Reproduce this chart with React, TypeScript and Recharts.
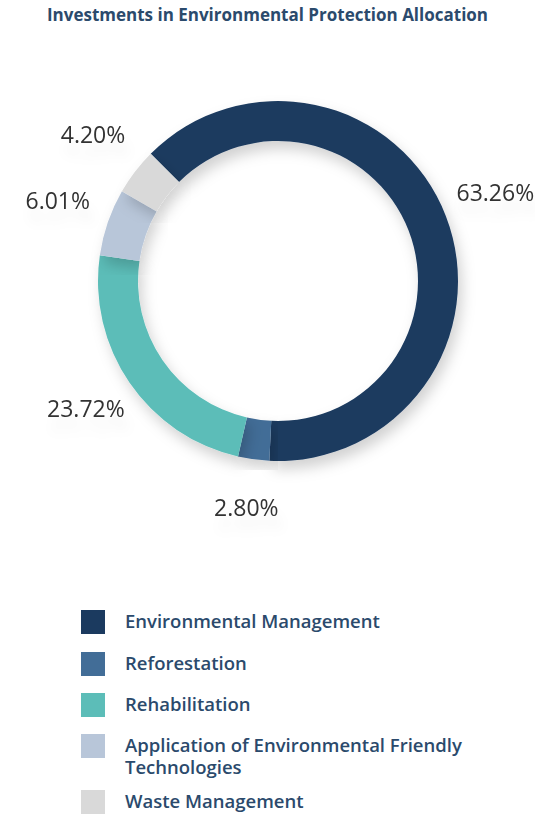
import { PieChart, Pie, Cell } from "recharts"

const categories = [
    "Environmental Management",
    "Reforestation",
    "Rehabilitation",
    "Application of Environmental Friendly Technologies",
    "Waste Management",
]
const shares = [63.26, 2.8, 23.72, 6.01, 4.2]
const colors = ["#1b3a5f", "#426d97", "#5cbdb8", "#b8c6d9", "#d9d9d9"]

const data = categories.map((name, i) => ({ name, value: shares[i] }))

// legend row tops, as measured from the layout
const legendTops = [610, 652, 693, 734, 790]

const RAD = Math.PI / 180
const font = "'Open Sans', 'Noto Sans', sans-serif"

const renderLabel = (props: any) => {
    const { cx, cy, midAngle, outerRadius, value } = props
    const r = outerRadius + 53
    const x = cx + r * Math.cos(-midAngle * RAD)
    const y = cy + r * Math.sin(-midAngle * RAD) - 5
    return (
        <text
            x={x}
            y={y}
            textAnchor="middle"
            dominantBaseline="central"
            fill="#333333"
            fontSize={23}
            fontFamily={font}
            style={{ filter: "url(#labelShadow)" }}
        >
            {value.toFixed(2)}%
        </text>
    )
}

export default function App() {
    return (
        <div style={{ position: "absolute", left: 0, top: 0, width: 535, height: 814, background: "#fff", fontFamily: font, overflow: "hidden" }}>
            <div style={{ position: "absolute", top: 3, left: 0, width: 535, textAlign: "center", fontSize: 17, fontWeight: 700, color: "#2b4a6c" }}>
                Investments in Environmental Protection Allocation
            </div>
            <div style={{ position: "absolute", top: 0, left: 0 }}>
                <PieChart width={535} height={560}>
                    <defs>
                        <filter id="shadow" x="-20%" y="-20%" width="140%" height="140%">
                            <feDropShadow dx="4" dy="8" stdDeviation="7" floodColor="#000" floodOpacity="0.18" />
                        </filter>
                        <filter id="labelShadow" x="-30%" y="-50%" width="160%" height="250%">
                            <feDropShadow dx="4" dy="14" stdDeviation="6" floodColor="#000" floodOpacity="0.06" />
                        </filter>
                    </defs>
                    <Pie
                        data={data}
                        dataKey="value"
                        cx={273}
                        cy={276}
                        innerRadius={140}
                        outerRadius={180}
                        startAngle={135}
                        endAngle={-225}
                        stroke="none"
                        label={renderLabel}
                        labelLine={false}
                        isAnimationActive={false}
                        style={{ filter: "url(#shadow)" }}
                    >
                        {data.map((d, i) => (
                            <Cell key={d.name} fill={colors[i]} />
                        ))}
                    </Pie>
                </PieChart>
            </div>
            {categories.map((name, i) => (
                <div key={name} style={{ position: "absolute", top: legendTops[i], left: 81, display: "flex", alignItems: "flex-start" }}>
                    <div style={{ width: 24, height: 24, background: colors[i], flexShrink: 0 }} />
                    <div style={{ marginLeft: 20, width: 380, fontSize: 18.5, lineHeight: "22px", color: "#2b4a6c", fontWeight: 600, marginTop: 0 }}>
                        {name}
                    </div>
                </div>
            ))}
        </div>
    )
}
